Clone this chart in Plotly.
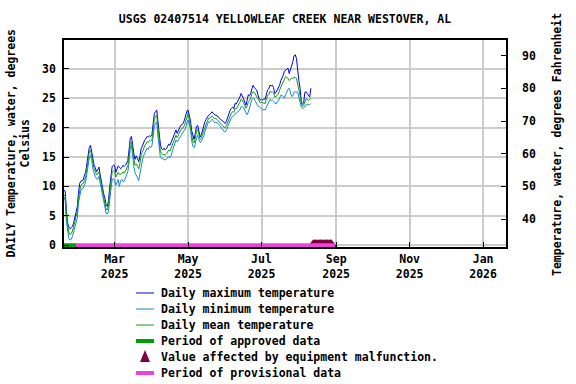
import pandas as pd
import plotly.graph_objects as go

title = "USGS 02407514 YELLOWLEAF CREEK NEAR WESTOVER, AL"
start_date = "2025-01-18"

daily_max = [9.4,9.2,6.0,3.8,3.1,2.8,3.0,3.2,3.8,4.8,
5.8,6.5,8.8,10.5,10.9,11.0,11.1,12.0,12.4,13.9,
15.4,16.6,17.0,15.8,14.5,13.6,13.2,12.5,12.8,13.3,
12.0,10.8,9.6,8.7,8.0,6.8,6.6,7.6,10.0,12.3,
13.4,13.6,13.6,12.4,13.0,13.5,13.3,13.0,13.2,13.6,
13.4,13.6,14.0,14.4,16.2,18.2,18.5,16.4,15.6,14.6,
15.2,14.8,14.2,15.0,16.4,16.8,17.5,17.9,18.1,18.5,
18.4,18.6,18.5,18.8,20.6,22.4,22.7,23.0,21.0,19.0,
17.2,16.4,16.2,16.5,16.2,16.4,16.8,17.2,17.0,17.6,
18.2,18.6,19.2,19.6,19.0,19.6,20.0,20.4,20.6,20.7,
21.3,21.9,22.8,23.0,22.0,21.2,19.5,18.4,18.0,19.0,
20.2,20.4,19.5,18.4,18.8,19.6,20.2,21.0,21.4,21.8,
22.1,22.2,22.5,22.7,22.4,22.2,22.1,22.0,21.9,21.6,
21.4,21.3,21.0,20.8,20.7,21.2,21.9,22.5,23.0,23.3,
23.5,23.2,24.1,24.0,24.4,24.7,25.2,25.8,25.5,25.0,
24.4,23.8,24.6,25.6,25.4,25.8,26.6,27.2,26.8,26.5,
26.4,25.6,24.9,24.7,24.8,24.7,24.9,24.8,25.8,26.4,
26.6,27.2,27.1,27.2,26.8,25.8,26.0,26.4,26.6,27.2,
28.0,28.4,28.9,29.6,29.8,30.0,30.1,29.2,29.8,30.6,
31.2,32.2,32.4,31.8,29.5,28.0,26.7,24.5,24.0,24.2,
26.0,26.1,25.8,25.5,25.2,26.7]

daily_mean = [8.6,8.3,5.0,3.0,2.2,1.8,2.0,2.4,3.0,4.0,
4.9,5.7,8.0,9.6,10.2,10.4,10.5,11.0,11.6,13.0,
14.5,15.8,16.2,15.2,13.9,13.0,12.6,12.0,12.1,12.5,
11.4,10.2,9.0,8.0,7.2,6.1,6.0,6.8,9.0,11.3,
12.5,12.7,12.6,11.6,12.0,12.4,12.0,12.1,12.2,12.5,
12.3,12.6,13.0,13.5,15.2,17.3,17.6,15.6,14.6,13.6,
13.8,13.5,13.0,13.8,15.4,15.8,16.5,16.9,17.2,17.6,
17.5,17.8,17.7,17.9,19.6,21.4,21.9,22.1,20.0,17.8,
16.0,15.6,15.4,15.5,15.3,15.5,15.8,16.2,16.0,16.6,
17.2,17.6,18.3,18.7,18.3,18.8,19.2,19.6,19.9,20.0,
20.4,21.0,21.9,22.4,21.4,20.4,18.8,17.7,17.4,18.2,
19.4,19.7,18.8,18.0,18.2,18.9,19.5,20.2,20.6,21.0,
21.6,21.6,21.9,22.0,21.8,21.5,21.6,21.4,21.2,21.0,
20.8,20.6,20.3,20.0,20.0,20.4,21.0,21.6,22.2,22.5,
22.7,22.6,23.2,23.2,23.5,23.8,24.3,24.8,24.7,24.3,
23.8,23.3,23.6,24.4,24.6,25.0,25.8,26.1,26.0,25.6,
25.4,24.9,24.4,24.2,24.3,24.2,24.2,24.1,24.8,25.5,
25.6,26.2,26.0,26.1,25.9,25.2,25.3,25.6,25.7,26.4,
26.9,27.4,27.8,28.3,28.7,28.5,28.4,28.0,28.2,28.4,
28.3,28.6,28.5,28.4,27.4,26.6,25.4,24.2,23.6,23.8,
24.5,24.9,24.8,24.6,24.8,25.0]

daily_min = [8.2,7.6,4.0,2.0,1.2,0.9,1.0,1.5,2.2,3.0,
3.9,4.6,7.2,8.6,9.3,9.6,9.7,10.3,10.8,12.2,
13.6,14.8,15.3,14.6,13.0,12.2,11.7,11.3,11.2,11.7,
10.6,9.4,8.2,7.2,6.3,5.4,5.3,5.8,7.8,10.0,
11.2,11.3,11.0,10.2,10.6,11.2,10.0,11.0,11.2,10.8,
10.9,11.5,12.0,12.5,14.0,16.5,17.0,14.7,13.4,12.3,
12.0,11.5,11.0,12.2,13.6,14.3,15.2,15.6,16.0,16.5,
16.3,16.8,16.6,16.9,18.4,20.2,20.7,21.0,18.6,16.2,
15.0,14.8,14.7,14.6,14.5,14.6,14.8,15.1,14.9,15.3,
16.0,16.6,17.4,17.9,17.6,17.9,18.4,18.6,19.0,19.2,
19.5,19.9,20.8,21.3,20.6,19.7,17.8,16.8,16.6,17.2,
18.3,18.7,18.0,17.5,17.6,18.0,18.6,19.3,19.8,20.4,
21.0,20.9,21.2,21.4,21.2,20.8,20.9,20.8,20.7,20.4,
20.2,19.9,19.6,19.3,19.3,19.6,20.2,20.8,21.4,21.7,
21.9,22.0,22.3,22.5,22.6,22.8,23.0,23.5,23.6,23.4,
23.0,22.4,22.2,22.6,23.4,24.2,24.8,25.0,24.9,24.4,
24.0,23.7,23.6,23.3,23.2,23.0,23.1,23.0,23.4,24.0,
24.4,24.8,24.6,24.7,24.5,24.2,24.0,24.4,24.5,25.0,
25.5,25.5,25.3,25.0,25.6,26.2,26.5,26.7,26.0,25.3,
25.4,26.0,26.1,26.1,26.0,25.2,24.5,23.5,23.3,23.3,
23.6,23.9,23.9,23.9,23.9,24.1]

approved_dates = ["2025-01-18", "2025-01-28"]
approved_vals = [0, 0]
provisional_dates = ["2025-01-28", "2025-08-31"]
provisional_vals = [0, 0]
malfunction_dates = ["2025-08-13", "2025-08-14", "2025-08-15", "2025-08-16", "2025-08-17",
                     "2025-08-18", "2025-08-19", "2025-08-20", "2025-08-21", "2025-08-22",
                     "2025-08-23", "2025-08-24", "2025-08-25", "2025-08-26", "2025-08-27",
                     "2025-08-28"]
malfunction_vals = [0, 0, 0, 0, 0, 0, 0, 0, 0, 0, 0, 0, 0, 0, 0, 0]

x_tick_dates = ["2025-03-01", "2025-05-01", "2025-07-01", "2025-09-01", "2025-11-01", "2026-01-01"]
x_tick_text = ["Mar<br>2025", "May<br>2025", "Jul<br>2025", "Sep<br>2025", "Nov<br>2025", "Jan<br>2026"]
c_ticks = [0, 5, 10, 15, 20, 25, 30]
f_ticks = [40, 50, 60, 70, 80, 90]

legend_labels = ["Daily maximum temperature", "Daily minimum temperature", "Daily mean temperature",
                 "Period of approved data", "Value affected by equipment malfunction.",
                 "Period of provisional data"]

dates = pd.date_range(start_date, periods=len(daily_max), freq="D")

FONT = "DejaVu Sans Mono"
fnt = dict(family=FONT, size=11.5, color="black", weight="bold")

C_MAX, C_MIN, C_MEAN = "#0000EE", "#1888CC", "#0E9E0E"
C_APP, C_MAL, C_PROV = "#00A000", "#800040", "#EE44DD"

c_range = [-0.3, 34.9]
f_range = [c * 1.8 + 32 for c in c_range]

# plot area in pixels
L, R, T, B = 64, 70, 40, 137
PW, PH = 576 - L - R, 384 - T - B


def px(xp):
    return (xp - L) / PW


def py(yp):
    return (384 - B - yp) / PH


fig = go.Figure()
fig.add_trace(go.Scatter(x=dates, y=daily_max, mode="lines", name=legend_labels[0],
                         line=dict(color=C_MAX, width=1)))
fig.add_trace(go.Scatter(x=dates, y=daily_min, mode="lines", name=legend_labels[1],
                         line=dict(color=C_MIN, width=1)))
fig.add_trace(go.Scatter(x=dates, y=daily_mean, mode="lines", name=legend_labels[2],
                         line=dict(color=C_MEAN, width=1)))
fig.add_trace(go.Scatter(x=approved_dates, y=approved_vals, mode="lines", name=legend_labels[3],
                         line=dict(color=C_APP, width=4)))
fig.add_trace(go.Scatter(x=malfunction_dates, y=malfunction_vals, mode="markers", name=legend_labels[4],
                         marker=dict(symbol="triangle-up", size=12, color=C_MAL), cliponaxis=False))
fig.add_trace(go.Scatter(x=provisional_dates, y=provisional_vals, mode="lines", name=legend_labels[5],
                         line=dict(color=C_PROV, width=4)))
fig.add_trace(go.Scatter(x=[dates[0]], y=[None], yaxis="y2", showlegend=False, hoverinfo="skip"))

# legend drawn below the chart
row_y = [293, 309, 325, 341, 357, 373]
styles = [(C_MAX, 1), (C_MIN, 1), (C_MEAN, 1), (C_APP, 4), None, (C_PROV, 4)]
shapes = []
annotations = []
for lab, yy, st in zip(legend_labels, row_y, styles):
    if st is None:
        shapes.append(dict(type="path", xref="paper", yref="paper",
                           path=f"M {px(140)},{py(362)} L {px(150)},{py(362)} L {px(145)},{py(350)} Z",
                           fillcolor=C_MAL, line=dict(width=0)))
    else:
        shapes.append(dict(type="line", xref="paper", yref="paper", x0=px(136), x1=px(154),
                           y0=py(yy), y1=py(yy), line=dict(color=st[0], width=st[1])))
    annotations.append(dict(text=lab, xref="paper", yref="paper", x=px(159), y=py(yy),
                            xanchor="left", yanchor="middle", showarrow=False, font=fnt))

annotations.append(dict(text="DAILY Temperature, water, degrees<br>Celsius", textangle=-90,
                        xref="paper", yref="paper", x=px(18), y=0.5, xanchor="center", yanchor="middle",
                        showarrow=False, font=fnt))
annotations.append(dict(text="Temperature, water, degrees Fahrenheit", textangle=-90,
                        xref="paper", yref="paper", x=px(557), y=py(145), xanchor="center", yanchor="middle",
                        showarrow=False, font=fnt))

fig.update_layout(
    width=576, height=384,
    margin=dict(l=L, r=R, t=T, b=B, autoexpand=False),
    paper_bgcolor="white", plot_bgcolor="white",
    font=fnt,
    showlegend=False,
    title=dict(text=title, x=0.5, xref="paper", xanchor="center", y=1 - 19 / 384, yanchor="middle",
               font=fnt),
    xaxis=dict(type="date", range=["2025-01-18", "2026-01-20"], tickvals=x_tick_dates, ticktext=x_tick_text,
               ticks="inside", ticklen=5, tickcolor="black", showgrid=True, gridcolor="#CCCCCC", gridwidth=1.5,
               showline=True, linecolor="black", linewidth=1.5, mirror=True, tickfont=fnt, zeroline=False),
    yaxis=dict(range=c_range, tickvals=c_ticks, ticks="inside", ticklen=5, tickcolor="black",
               showgrid=True, gridcolor="#CCCCCC", gridwidth=1.5, showline=True, linecolor="black",
               linewidth=1.5, mirror=True, tickfont=fnt, zeroline=False, ticklabelstandoff=4),
    yaxis2=dict(range=f_range, tickvals=f_ticks, overlaying="y", side="right", ticks="inside", ticklen=5,
                tickcolor="black", showgrid=False, showline=True, linecolor="black", linewidth=1.5,
                tickfont=fnt, zeroline=False, ticklabelstandoff=12),
    shapes=shapes,
    annotations=annotations,
)

fig.write_html("out.html", config={"displayModeBar": False},
               post_script="document.body.style.margin='0';document.body.style.overflow='hidden';")
